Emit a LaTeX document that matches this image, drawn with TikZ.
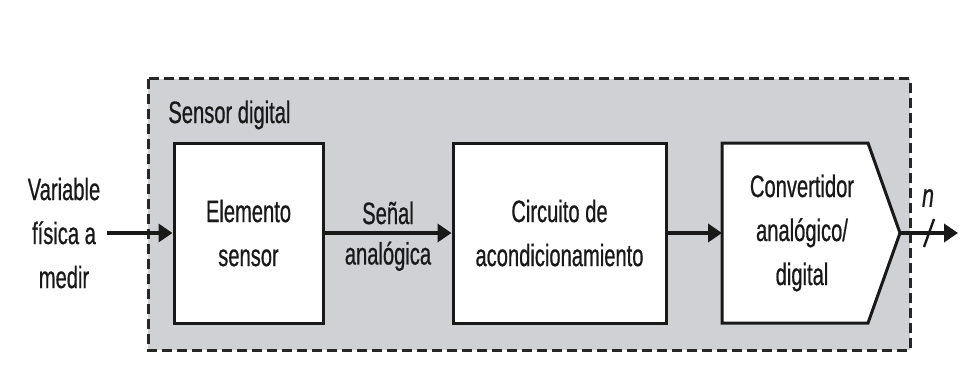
\documentclass[tikz,border=0pt]{standalone}
\usepackage{fontspec}
\setmainfont[FakeStretch=0.65]{Liberation Sans}
\newfontfamily\diagfont[FakeStretch=0.65,FakeBold=0.6]{Liberation Sans}
\usetikzlibrary{arrows.meta,calc}
\definecolor{panelgray}{RGB}{208,209,213}
\definecolor{inkgray}{RGB}{25,25,25}

\begin{document}
\begin{tikzpicture}[
    x=0.5pt, y=-0.5pt,
    >={Triangle[length=7pt,width=9pt]},
    txt/.style={font=\fontsize{15.5}{22}\selectfont\diagfont, align=center, text=inkgray},
    block/.style={draw=inkgray, line width=1.5pt, fill=white, minimum height=90pt},
    flow/.style={->, draw=inkgray, line width=2pt},
    panel/.style={fill=panelgray, draw=black!85, line width=1.5pt,
        dash pattern=on 5pt off 2.5pt},
]

    \def\blocktop{143}   % top edge of the three blocks
    \def\blockbot{323}   % bottom edge of the three blocks
    \def\midline{233}    % height of the signal path

    \useasboundingbox (0,0) rectangle (978,385);

    % =============================================================
    % The digital sensor: a dashed gray panel round the blocks
    % =============================================================
    \draw[panel] (148,79) rectangle (910,350);
    \node[txt, anchor=base west, inner sep=0pt] (title) at (168,123)
        {Sensor digital};

    % sensing element and conditioning circuit
    \node[block, txt, minimum width=74.5pt] (elem) at (248.5,\midline)
        {Elemento\\sensor};
    \node[block, txt, minimum width=106.5pt] (circ) at (559.5,\midline)
        {Circuito de\\acondicionamiento};

    % the A/D converter has a pointed output side
    \draw[fill=white, draw=inkgray, line width=1.5pt, line join=miter]
        (722,\blocktop) -- (868,\blocktop) -- (900,\midline)
        -- (868,\blockbot) -- (722,\blockbot) -- cycle;
    \coordinate (adcin) at (722,\midline);
    \coordinate (adctip) at (900,\midline);
    \node[txt] (adc) at (802,\midline) {Convertidor\\analógico/\\digital};

    % =============================================================
    % Signal path
    % =============================================================
    \node[txt, inner sep=3pt] (var) at (64,\midline)
        {Variable\\física a\\medir};
    \coordinate (out) at (958,\midline);

    \draw[flow] (var.east) -- (elem.west);
    \draw[flow] (elem.east) -- node[txt, above] {Señal}
        node[txt, below] {analógica} (circ.west);
    \draw[flow] (circ.east) -- (adcin);
    \draw[flow] (adctip) -- (out);

    % an n-bit bus
    \draw[draw=inkgray, line width=1.2pt] ($(adctip)!0.5!(out)$)
        ++(-5,14) -- ++(10,-28);
    \node[txt, font=\fontsize{16.5}{22}\selectfont\diagfont\itshape] (nbits)
        at (928,198) {n};

\end{tikzpicture}
\end{document}
